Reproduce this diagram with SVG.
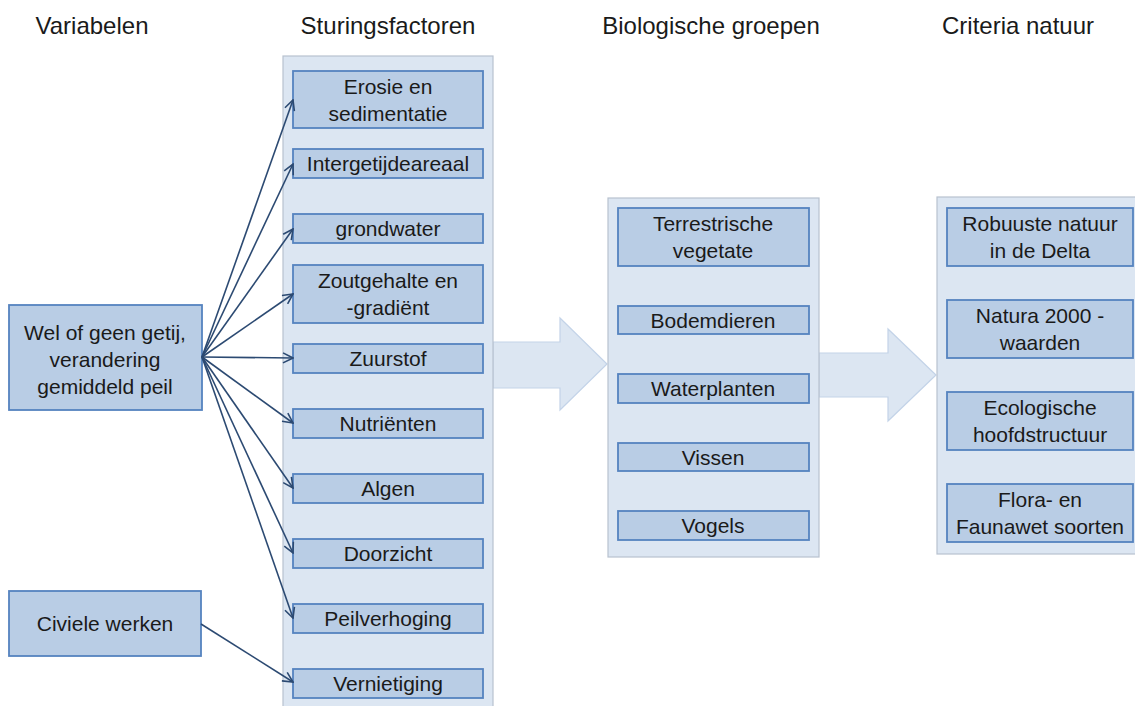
<svg xmlns="http://www.w3.org/2000/svg" width="1135" height="706" viewBox="0 0 1135 706">
<defs>
<style>
.hdr{font-family:"Liberation Sans",Arial,sans-serif;font-size:24px;fill:#1a1a1a;text-anchor:middle}
.t{font-family:"Liberation Sans",Arial,sans-serif;font-size:21px;fill:#1a1a1a;text-anchor:middle}
.panel{fill:#dce6f2;stroke:#b8c2cf;stroke-width:1.2}
.box{fill:#b9cde5;stroke:#5583bf;stroke-width:1.8}
.big{fill:#dce6f2;stroke:#c3d3e8;stroke-width:1.2}
.conn{stroke:#2c4a72;stroke-width:1.6;fill:none;marker-end:url(#ah)}
</style>
<marker id="ah" viewBox="0 0 12 12" refX="11" refY="6" markerWidth="12" markerHeight="12" markerUnits="userSpaceOnUse" orient="auto">
<path d="M1,1 L11,6 L1,11" fill="none" stroke="#2c4a72" stroke-width="1.6"/>
</marker>
</defs>
<rect width="1135" height="706" fill="#ffffff"/>
<g id="headers">
<text class="hdr" x="92" y="34">Variabelen</text>
<text class="hdr" x="388" y="34">Sturingsfactoren</text>
<text class="hdr" x="711" y="34">Biologische groepen</text>
<text class="hdr" x="1018" y="34">Criteria natuur</text>
</g>
<g id="bigarrows">
<path class="big" d="M493,342 L560,342 L560,318 L607,364 L560,410 L560,388 L493,388 Z"/>
<path class="big" d="M819,353 L888,353 L888,329 L936,375 L888,421 L888,397 L819,397 Z"/>
</g>
<g id="panel-sturing">
<rect class="panel" x="283" y="56" width="210" height="660"/>
</g>
<g id="panel-bio">
<rect class="panel" x="608" y="198" width="211" height="359"/>
</g>
<g id="panel-criteria">
<rect class="panel" x="937" y="197" width="210" height="357"/>
</g>
<g id="wel">
<rect class="box" x="9" y="305" width="193" height="105"/>
<text class="t" x="105" y="340">Wel of geen getij,</text>
<text class="t" x="105" y="367">verandering</text>
<text class="t" x="105" y="394">gemiddeld peil</text>
</g>
<g id="civiele">
<rect class="box" x="9" y="591" width="192" height="65"/>
<text class="t" x="105" y="631">Civiele werken</text>
</g>
<g id="erosie"><rect class="box" x="293" y="71" width="190" height="57"/><text class="t" x="388" y="94">Erosie en</text><text class="t" x="388" y="121">sedimentatie</text></g>
<g id="intergetijde"><rect class="box" x="293" y="149" width="190" height="29"/><text class="t" x="388" y="171">Intergetijdeareaal</text></g>
<g id="grondwater"><rect class="box" x="293" y="214" width="190" height="29"/><text class="t" x="388" y="236">grondwater</text></g>
<g id="zout"><rect class="box" x="293" y="265" width="190" height="58"/><text class="t" x="388" y="288">Zoutgehalte en</text><text class="t" x="388" y="315">-gradiënt</text></g>
<g id="zuurstof"><rect class="box" x="293" y="344" width="190" height="29"/><text class="t" x="388" y="366">Zuurstof</text></g>
<g id="nutrienten"><rect class="box" x="293" y="409" width="190" height="29"/><text class="t" x="388" y="431">Nutriënten</text></g>
<g id="algen"><rect class="box" x="293" y="474" width="190" height="29"/><text class="t" x="388" y="496">Algen</text></g>
<g id="doorzicht"><rect class="box" x="293" y="539" width="190" height="29"/><text class="t" x="388" y="561">Doorzicht</text></g>
<g id="peilverhoging"><rect class="box" x="293" y="604" width="190" height="29"/><text class="t" x="388" y="626">Peilverhoging</text></g>
<g id="vernietiging"><rect class="box" x="293" y="669" width="190" height="29"/><text class="t" x="388" y="691">Vernietiging</text></g>
<g id="terrestrische"><rect class="box" x="618" y="208" width="191" height="58"/><text class="t" x="713" y="231">Terrestrische</text><text class="t" x="713" y="258">vegetate</text></g>
<g id="bodemdieren"><rect class="box" x="618" y="306" width="191" height="28"/><text class="t" x="713" y="328">Bodemdieren</text></g>
<g id="waterplanten"><rect class="box" x="618" y="374" width="191" height="29"/><text class="t" x="713" y="396">Waterplanten</text></g>
<g id="vissen"><rect class="box" x="618" y="443" width="191" height="28"/><text class="t" x="713" y="465">Vissen</text></g>
<g id="vogels"><rect class="box" x="618" y="511" width="191" height="29"/><text class="t" x="713" y="533">Vogels</text></g>
<g id="robuuste"><rect class="box" x="947" y="208" width="186" height="58"/><text class="t" x="1040" y="231">Robuuste natuur</text><text class="t" x="1040" y="258">in de Delta</text></g>
<g id="natura"><rect class="box" x="947" y="300" width="186" height="58"/><text class="t" x="1040" y="323">Natura 2000 -</text><text class="t" x="1040" y="350">waarden</text></g>
<g id="ecologische"><rect class="box" x="947" y="392" width="186" height="58"/><text class="t" x="1040" y="415">Ecologische</text><text class="t" x="1040" y="442">hoofdstructuur</text></g>
<g id="flora"><rect class="box" x="947" y="484" width="186" height="58"/><text class="t" x="1040" y="507">Flora- en</text><text class="t" x="1040" y="534">Faunawet soorten</text></g>
<g id="connectors">
<line class="conn" x1="202" y1="357" x2="293" y2="100"/>
<line class="conn" x1="202" y1="357" x2="293" y2="164"/>
<line class="conn" x1="202" y1="357" x2="293" y2="229"/>
<line class="conn" x1="202" y1="357" x2="293" y2="294"/>
<line class="conn" x1="202" y1="357" x2="293" y2="358"/>
<line class="conn" x1="202" y1="357" x2="293" y2="423"/>
<line class="conn" x1="202" y1="357" x2="293" y2="488"/>
<line class="conn" x1="202" y1="357" x2="293" y2="553"/>
<line class="conn" x1="202" y1="357" x2="293" y2="618"/>
<line class="conn" x1="201" y1="624" x2="293" y2="682"/>
</g>
</svg>
